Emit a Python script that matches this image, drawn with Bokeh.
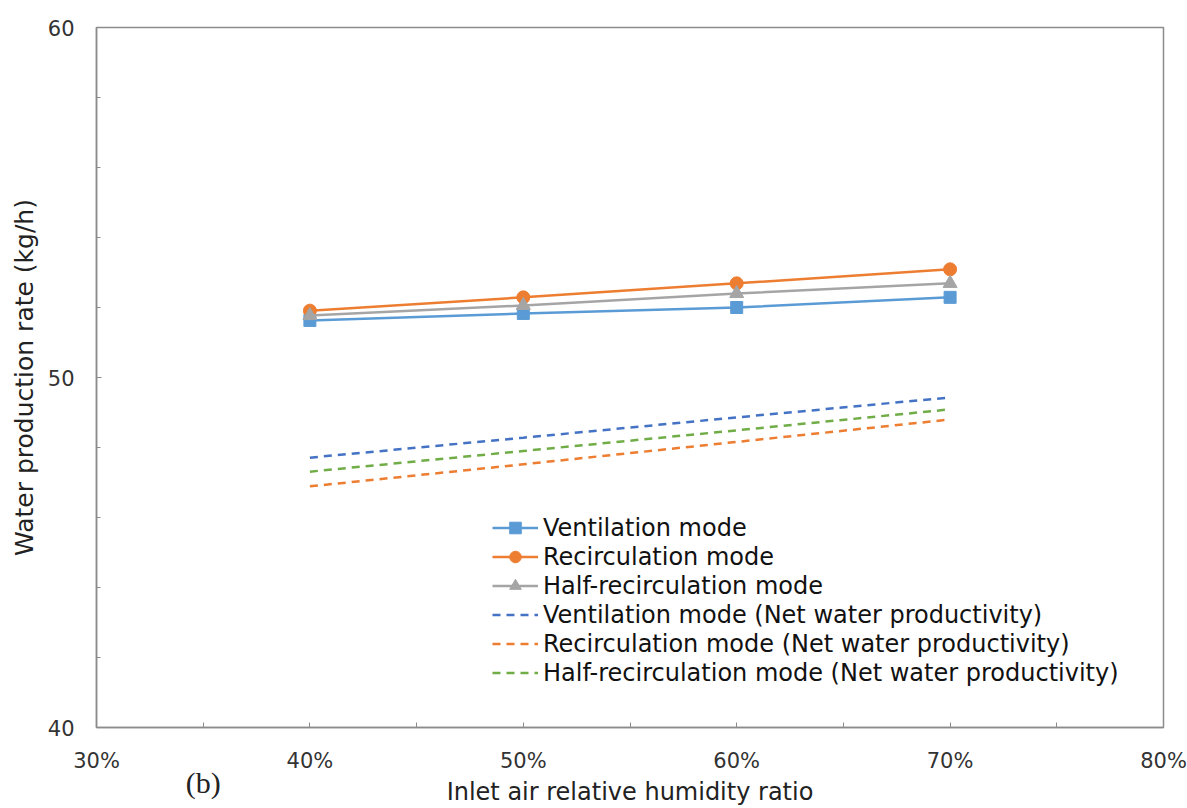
from bokeh.plotting import figure
from bokeh.models import Legend, LegendItem, FixedTicker, Range1d, LinearAxis
from bokeh.embed import file_html
from bokeh.resources import INLINE

# ---- data ----
humidity = [0.40, 0.50, 0.60, 0.70]
ventilation = [51.63, 51.83, 52.00, 52.29]
recirculation = [51.91, 52.29, 52.69, 53.09]
half_recirculation = [51.77, 52.06, 52.40, 52.69]
ventilation_net = [47.71, 48.28, 48.86, 49.43]
recirculation_net = [46.89, 47.52, 48.16, 48.80]
half_recirculation_net = [47.31, 47.90, 48.49, 49.09]

x_ticks = [0.30, 0.35, 0.40, 0.45, 0.50, 0.55, 0.60, 0.65, 0.70, 0.75, 0.80]
x_labels = {0.30: "30%", 0.40: "40%", 0.50: "50%", 0.60: "60%", 0.70: "70%", 0.80: "80%"}
y_ticks = [40, 50, 60]
y_minor = [42, 44, 46, 48, 52, 54, 56, 58]
panel_tag_at = 0.35
panel_tag = "(b)"

FONT = "DejaVu Sans"
AX = "#8c8c8c"

p = figure(width=1187, height=808, output_backend="svg", toolbar_location=None,
           x_range=Range1d(0.30, 0.80), y_range=Range1d(40, 60),
           min_border_left=96, min_border_right=24, min_border_top=27,
           min_border_bottom=81)
p.xgrid.visible = False
p.ygrid.visible = False
p.outline_line_color = AX
p.outline_line_width = 1.5
p.background_fill_color = "white"
p.border_fill_color = "white"

# axes
p.xaxis.ticker = FixedTicker(ticks=x_ticks, minor_ticks=[])
p.xaxis.major_label_overrides = {t: x_labels.get(t, "") for t in x_ticks}
p.yaxis.ticker = FixedTicker(ticks=y_ticks, minor_ticks=y_minor)
for ax in (p.xaxis[0], p.yaxis[0]):
    ax.axis_line_color = AX
    ax.axis_line_width = 1.5
    ax.major_tick_line_color = AX
    ax.minor_tick_line_color = AX
    ax.major_tick_in = 5
    ax.major_tick_out = 0
    ax.minor_tick_in = 4
    ax.minor_tick_out = 0
    ax.major_label_text_font = FONT
    ax.major_label_text_font_size = "21px"
    ax.major_label_text_color = "#333333"
    ax.axis_label_text_font = FONT
    ax.axis_label_text_font_style = "normal"
    ax.axis_label_text_color = "#222222"
p.yaxis.axis_label_text_font_size = "25px"
p.xaxis.major_label_standoff = 21
p.yaxis.major_label_standoff = 22
p.yaxis.axis_label = "Water production rate (kg/h)"
p.yaxis.axis_label_standoff = 6

# second bottom axis: carries the panel tag "(b)" and the x-axis title
xaxis2 = LinearAxis(ticker=FixedTicker(ticks=[panel_tag_at], minor_ticks=[]),
                    major_label_overrides={panel_tag_at: panel_tag},
                    axis_label="Inlet air relative humidity ratio")
xaxis2.axis_line_alpha = 0
xaxis2.major_tick_line_alpha = 0
xaxis2.minor_tick_line_alpha = 0
xaxis2.major_tick_in = 0
xaxis2.major_tick_out = 0
xaxis2.minor_tick_in = 0
xaxis2.minor_tick_out = 0
xaxis2.major_label_text_font = "Liberation Serif"
xaxis2.major_label_text_font_size = "30px"
xaxis2.major_label_text_color = "#222222"
xaxis2.major_label_standoff = -10
xaxis2.axis_label_text_font = FONT
xaxis2.axis_label_text_font_size = "24px"
xaxis2.axis_label_text_font_style = "normal"
xaxis2.axis_label_text_color = "#222222"
xaxis2.axis_label_standoff = -24
p.add_layout(xaxis2, "below")

BLUE, ORANGE, GRAY = "#5b9bd5", "#ed7d31", "#a5a5a5"
DBLUE, DORANGE, DGREEN = "#4472c4", "#ed7d31", "#70ad47"

r1 = p.line(humidity, ventilation, line_color=BLUE, line_width=2.5)
m1 = p.scatter(humidity, ventilation, marker="square", size=12, color=BLUE)
r2 = p.line(humidity, recirculation, line_color=ORANGE, line_width=2.5)
m2 = p.scatter(humidity, recirculation, marker="circle", size=13, color=ORANGE)
r3 = p.line(humidity, half_recirculation, line_color=GRAY, line_width=2.5)
m3 = p.scatter(humidity, half_recirculation, marker="triangle", size=14, color=GRAY)
d1 = p.line(humidity, ventilation_net, line_color=DBLUE, line_width=2.5, line_dash="8 6")
d2 = p.line(humidity, recirculation_net, line_color=DORANGE, line_width=2.5, line_dash="8 6")
d3 = p.line(humidity, half_recirculation_net, line_color=DGREEN, line_width=2.5, line_dash="8 6")

legend = Legend(items=[
    LegendItem(label="Ventilation mode", renderers=[r1, m1]),
    LegendItem(label="Recirculation mode", renderers=[r2, m2]),
    LegendItem(label="Half-recirculation mode", renderers=[r3, m3]),
    LegendItem(label="Ventilation mode (Net water productivity)", renderers=[d1]),
    LegendItem(label="Recirculation mode (Net water productivity)", renderers=[d2]),
    LegendItem(label="Half-recirculation mode (Net water productivity)", renderers=[d3]),
], location=(396, 40))
legend.label_text_font = FONT
legend.label_text_font_size = "24px"
legend.label_text_color = "#111111"
legend.glyph_width = 46
legend.glyph_height = 29
legend.label_height = 29
legend.label_standoff = 5
legend.spacing = 0
legend.padding = 0
legend.margin = 0
legend.border_line_alpha = 0
legend.background_fill_alpha = 0
p.add_layout(legend)

open("out.html", "w").write(file_html(p, INLINE))
